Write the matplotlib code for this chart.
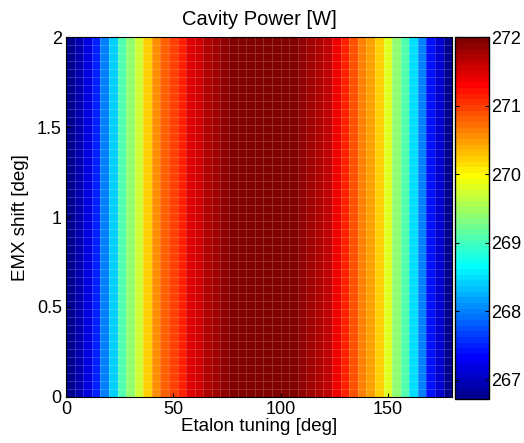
import numpy as np
import matplotlib
matplotlib.use("Agg")
import matplotlib.pyplot as plt
from matplotlib.colors import ListedColormap

plt.rcParams['font.family'] = ['Liberation Sans', 'DejaVu Sans']

# grid edges (deg)
etalon_deg = np.arange(0, 181, 4)
emx_deg = np.linspace(0, 2, 46)

# cavity power per etalon cell [W] (constant along EMX shift)
power_col = [266.76, 266.95, 267.20, 267.50, 268.00, 268.41, 269.07, 269.40,
             269.73, 270.22, 270.55, 270.80, 270.97, 271.13, 271.46, 271.55,
             271.71, 271.79, 271.88, 271.92, 271.96, 271.98, 272.00, 272.00,
             271.98, 271.96, 271.92, 271.88, 271.79, 271.71, 271.63, 271.42,
             271.13, 270.88, 270.64, 270.47, 270.22, 269.81, 269.40, 269.07,
             268.49, 268.00, 267.42, 267.09, 266.76]
cmin, cmax = 266.72, 272.0
cbar_ticks = [267, 268, 269, 270, 271, 272]


def matlab_jet(m=64):
    n = int(np.ceil(m / 4))
    u = np.concatenate([np.arange(1, n + 1) / n, np.ones(n - 1),
                        np.arange(n, 0, -1) / n])
    g = int(np.ceil(n / 2)) - (m % 4 == 1) + np.arange(1, len(u) + 1)
    r = g + n
    b = g - n
    g = g[g <= m]
    r = r[r <= m]
    b = b[b >= 1]
    J = np.zeros((m, 3))
    J[r - 1, 0] = u[:len(r)]
    J[g - 1, 1] = u[:len(g)]
    J[:len(b), 2] = u[len(u) - len(b):]
    return ListedColormap(J)


P = np.tile(np.array(power_col), (len(emx_deg) - 1, 1))

fig = plt.figure(figsize=(5.24, 4.43), dpi=100)
ax = fig.add_axes([0.126, 0.104, 0.737, 0.812])
cax = fig.add_axes([0.869, 0.099, 0.065, 0.817])

mesh = ax.pcolormesh(etalon_deg, emx_deg, P, cmap=matlab_jet(64),
                     vmin=cmin, vmax=cmax, edgecolors=(1, 1, 1, 0.18),
                     linewidth=0.5)
ax.set_xlim(0, 180)
ax.set_ylim(0, 2)
ax.set_xticks([0, 50, 100, 150])
ax.set_yticks([0, 0.5, 1, 1.5, 2])
ax.set_yticklabels(["0", "0.5", "1", "1.5", "2"])
ax.tick_params(direction="in", length=3, labelsize=13)
ax.tick_params(axis="x", pad=3)
ax.tick_params(axis="y", pad=3)
ax.set_xlabel("Etalon tuning [deg]", fontsize=13.5, labelpad=0)
ax.set_ylabel("EMX shift [deg]", fontsize=13.5, labelpad=6)
ax.set_title("Cavity Power [W]", fontsize=14.5, pad=9)

cb = fig.colorbar(mesh, cax=cax, ticks=cbar_ticks)
cb.outline.set_linewidth(1.0)
cax.tick_params(direction="in", length=3, labelsize=13, pad=1,
                left=True, right=True)

fig.savefig("out.png", dpi=100)
